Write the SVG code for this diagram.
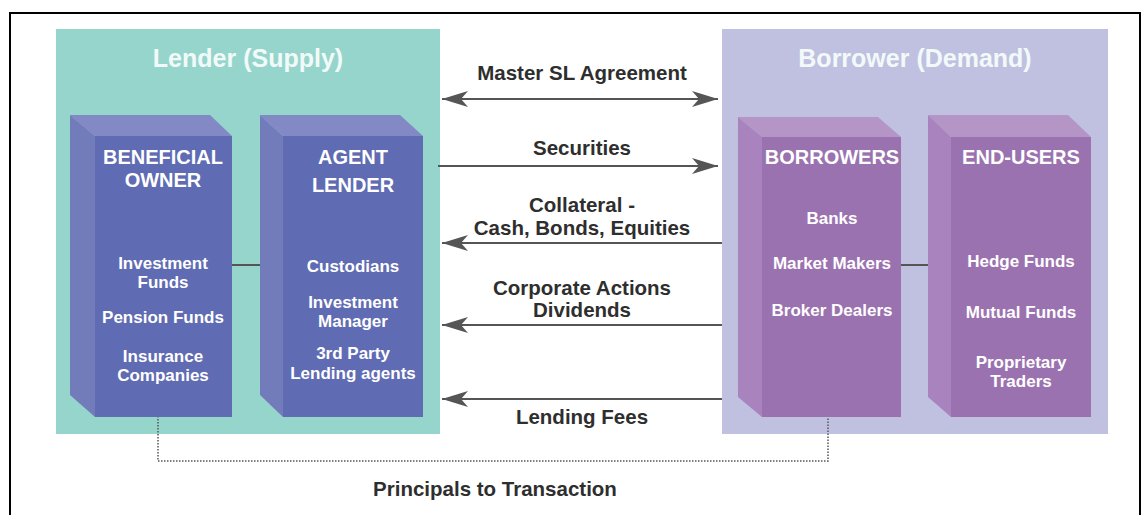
<svg xmlns="http://www.w3.org/2000/svg" width="1147" height="515" viewBox="0 0 1147 515">
<defs>
<style>
.t{font-family:"Liberation Sans",Arial,sans-serif;font-weight:bold;text-anchor:middle}
.ttl{font-size:25px;fill:#F2FAF9}
.hdr{font-size:20px;fill:#FFFFFF}
.itm{font-size:17px;fill:#FFFFFF}
.lbl{font-size:20.5px;fill:#2E2E2E}
.ln{stroke:#555;stroke-width:2;fill:none}
.dot{stroke:#555;stroke-width:1.5;fill:none;stroke-dasharray:1.5 1.5}
.bf{fill:#5F6BB2}.bs{fill:#737CBA}.bt{fill:#8289C4}
.pf{fill:#9B72B0}.ps{fill:#A883BE}.pt{fill:#B495C6}
</style>
<marker id="ah" viewBox="0 0 26 16" refX="26" refY="8" markerWidth="26" markerHeight="16" markerUnits="userSpaceOnUse" orient="auto-start-reverse">
<path d="M0,0 L26,8 L0,16 L7,8 Z" fill="#555"/>
</marker>
</defs>
<rect width="1147" height="515" fill="#FFFFFF"/>
<path d="M10,515 V13 H1140 V515" fill="none" stroke="#000" stroke-width="2"/>

<g id="lender-panel">
<rect x="56" y="29" width="384" height="405" fill="#96D5CC"/>
<text class="t ttl" x="248" y="67">Lender (Supply)</text>
</g>
<g id="borrower-panel">
<rect x="722" y="29" width="386" height="405" fill="#C0C1E1"/>
<text class="t ttl" x="915" y="67">Borrower (Demand)</text>
</g>

<g id="connectors">
<line class="ln" x1="232" y1="265" x2="260" y2="265"/>
<line class="ln" x1="901" y1="265" x2="928" y2="265"/>
<line class="ln" x1="442" y1="99" x2="718" y2="99" marker-start="url(#ah)" marker-end="url(#ah)"/>
<line class="ln" x1="438" y1="166" x2="718" y2="166" marker-end="url(#ah)"/>
<line class="ln" x1="722" y1="243" x2="442" y2="243" marker-end="url(#ah)"/>
<line class="ln" x1="722" y1="325" x2="442" y2="325" marker-end="url(#ah)"/>
<line class="ln" x1="722" y1="399" x2="442" y2="399" marker-end="url(#ah)"/>
<polyline class="dot" points="158,416 158,461 828,461 828,418"/>
<text class="t lbl" x="582" y="80">Master SL Agreement</text>
<text class="t lbl" x="582" y="155">Securities</text>
<text class="t lbl" x="582" y="212">Collateral -</text>
<text class="t lbl" x="582" y="235">Cash, Bonds, Equities</text>
<text class="t lbl" x="582" y="295">Corporate Actions</text>
<text class="t lbl" x="582" y="317">Dividends</text>
<text class="t lbl" x="582" y="424">Lending Fees</text>
<text class="t lbl" x="495" y="496">Principals to Transaction</text>
</g>

<g id="beneficial-owner">
<polygon class="bt" points="70,115 210,115 232,136 95,136"/>
<polygon class="bs" points="70,115 95,136 95,417 70,395"/>
<rect class="bf" x="95" y="136" width="137" height="281"/>
<text class="t hdr" x="163" y="164">BENEFICIAL</text>
<text class="t hdr" x="163" y="187">OWNER</text>
<text class="t itm" x="163" y="269">Investment</text>
<text class="t itm" x="163" y="288">Funds</text>
<text class="t itm" x="163" y="323">Pension Funds</text>
<text class="t itm" x="163" y="362">Insurance</text>
<text class="t itm" x="163" y="381">Companies</text>
</g>

<g id="agent-lender">
<polygon class="bt" points="260,115 400,115 423,136 283,136"/>
<polygon class="bs" points="260,115 283,136 283,417 260,395"/>
<rect class="bf" x="283" y="136" width="140" height="281"/>
<text class="t hdr" x="353" y="164">AGENT</text>
<text class="t hdr" x="353" y="192">LENDER</text>
<text class="t itm" x="353" y="272">Custodians</text>
<text class="t itm" x="353" y="308">Investment</text>
<text class="t itm" x="353" y="327">Manager</text>
<text class="t itm" x="353" y="359">3rd Party</text>
<text class="t itm" x="353" y="379">Lending agents</text>
</g>

<g id="borrowers">
<polygon class="pt" points="738,117 878,117 901,137 762,137"/>
<polygon class="ps" points="738,117 762,137 762,417 738,397"/>
<rect class="pf" x="762" y="137" width="139" height="280"/>
<text class="t hdr" x="832" y="164">BORROWERS</text>
<text class="t itm" x="832" y="224">Banks</text>
<text class="t itm" x="832" y="269">Market Makers</text>
<text class="t itm" x="832" y="316">Broker Dealers</text>
</g>

<g id="end-users">
<polygon class="pt" points="928,115 1068,115 1091,137 951,137"/>
<polygon class="ps" points="928,115 951,137 951,417 928,397"/>
<rect class="pf" x="951" y="137" width="140" height="280"/>
<text class="t hdr" x="1021" y="164">END-USERS</text>
<text class="t itm" x="1021" y="267">Hedge Funds</text>
<text class="t itm" x="1021" y="318">Mutual Funds</text>
<text class="t itm" x="1021" y="368">Proprietary</text>
<text class="t itm" x="1021" y="387">Traders</text>
</g>
</svg>
